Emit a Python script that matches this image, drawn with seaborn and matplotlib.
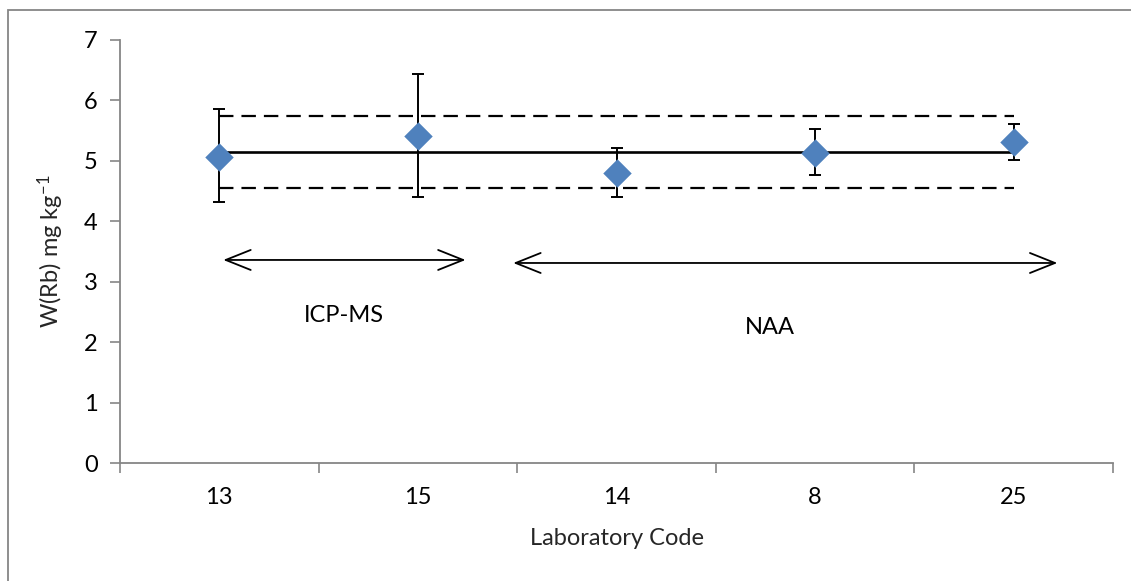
import matplotlib
matplotlib.use("Agg")
import matplotlib.pyplot as plt
from matplotlib.patches import Rectangle
import seaborn as sns
import pandas as pd

# Laboratory results for Rb
lab_codes = ["13", "15", "14", "8", "25"]
rb_values = [5.07, 5.41, 4.80, 5.13, 5.31]
err_upper = [5.85, 6.44, 5.21, 5.52, 5.61]
err_lower = [4.32, 4.40, 4.41, 4.76, 5.01]

# Assigned value and its acceptance band
assigned_value = 5.15
band_upper = 5.74
band_lower = 4.55

# Method groups: (label, arrow start, arrow end, arrow y, text x, text y)
method_names = ["ICP-MS", "NAA"]
method_start = [0.02, 1.48]
method_end = [1.24, 4.22]
method_arrow_y = [3.36, 3.31]
method_text_x = [0.63, 2.77]
method_text_y = [2.44, 2.24]

y_ticks = [0, 1, 2, 3, 4, 5, 6, 7]

sns.set_theme(style="white")
plt.rcParams["font.family"] = ["Lato", "DejaVu Sans"]
plt.rcParams["mathtext.default"] = "regular"

FS = 17

df = pd.DataFrame({"lab": lab_codes, "value": rb_values})

fig = plt.figure(figsize=(11.31, 5.81), dpi=100)
ax = fig.add_axes([120 / 1131, 1 - 463 / 581, (1113 - 120) / 1131, (463 - 40) / 581])

grey = "#868686"
blue = "#4F81BD"
pos = list(range(len(lab_codes)))

# reference lines spanning first to last laboratory
ax.plot([pos[0], pos[-1]], [assigned_value] * 2, color="black", lw=1.9, zorder=2)
for yv in (band_upper, band_lower):
    ax.plot([pos[0], pos[-1]], [yv] * 2, color="black", lw=1.6,
            dashes=(6.5, 3.6), zorder=2)

# error bars
yerr = [[v - lo for v, lo in zip(rb_values, err_lower)],
        [hi - v for v, hi in zip(rb_values, err_upper)]]
ax.errorbar(pos, rb_values, yerr=yerr, fmt="none", ecolor="black",
            elinewidth=1.4, capsize=4.5, capthick=1.4, zorder=3)

# results
sns.scatterplot(data=df, x="lab", y="value", marker="D", s=210, color=blue,
                edgecolor=blue, linewidth=0, ax=ax, zorder=4, legend=False)

# method group arrows and labels
for name, x0, x1, ya, tx, ty in zip(method_names, method_start, method_end,
                                     method_arrow_y, method_text_x, method_text_y):
    ax.annotate("", xy=(x1, ya), xytext=(x0, ya),
                arrowprops=dict(arrowstyle="<->,head_length=1.5,head_width=0.6",
                                color="black", lw=1.3, shrinkA=0, shrinkB=0))
    ax.text(tx, ty, name, ha="center", va="center", fontsize=FS, color="black")

ax.set_xlim(-0.5, len(lab_codes) - 0.5)
ax.set_ylim(0, 7)
ax.set_yticks(y_ticks)
ax.set_xticks(pos)
ax.set_xticklabels(lab_codes)
ax.set_xticks([p - 0.5 for p in pos] + [pos[-1] + 0.5], minor=True)

for side in ("top", "right"):
    ax.spines[side].set_visible(False)
for side in ("left", "bottom"):
    ax.spines[side].set_color(grey)
    ax.spines[side].set_linewidth(1.3)

ax.tick_params(axis="y", which="major", left=True, length=7, width=1.2,
               color=grey, labelsize=FS, pad=9, labelcolor="black")
ax.tick_params(axis="x", which="major", bottom=False, labelsize=FS, pad=11,
               labelcolor="black")
ax.tick_params(axis="x", which="minor", bottom=True, length=7, width=1.2,
               color=grey)

ax.set_xlabel("Laboratory Code", fontsize=FS, labelpad=15)
ax.set_ylabel("W(Rb) mg kg$^{-1}$", fontsize=FS, labelpad=13)

# outer chart frame
fig.patches.append(Rectangle((8 / 1131, -0.1), 1.2, 1 - 10 / 581 + 0.1,
                             transform=fig.transFigure, fill=False,
                             edgecolor=grey, lw=1.3))

fig.savefig("out.png", dpi=100)
